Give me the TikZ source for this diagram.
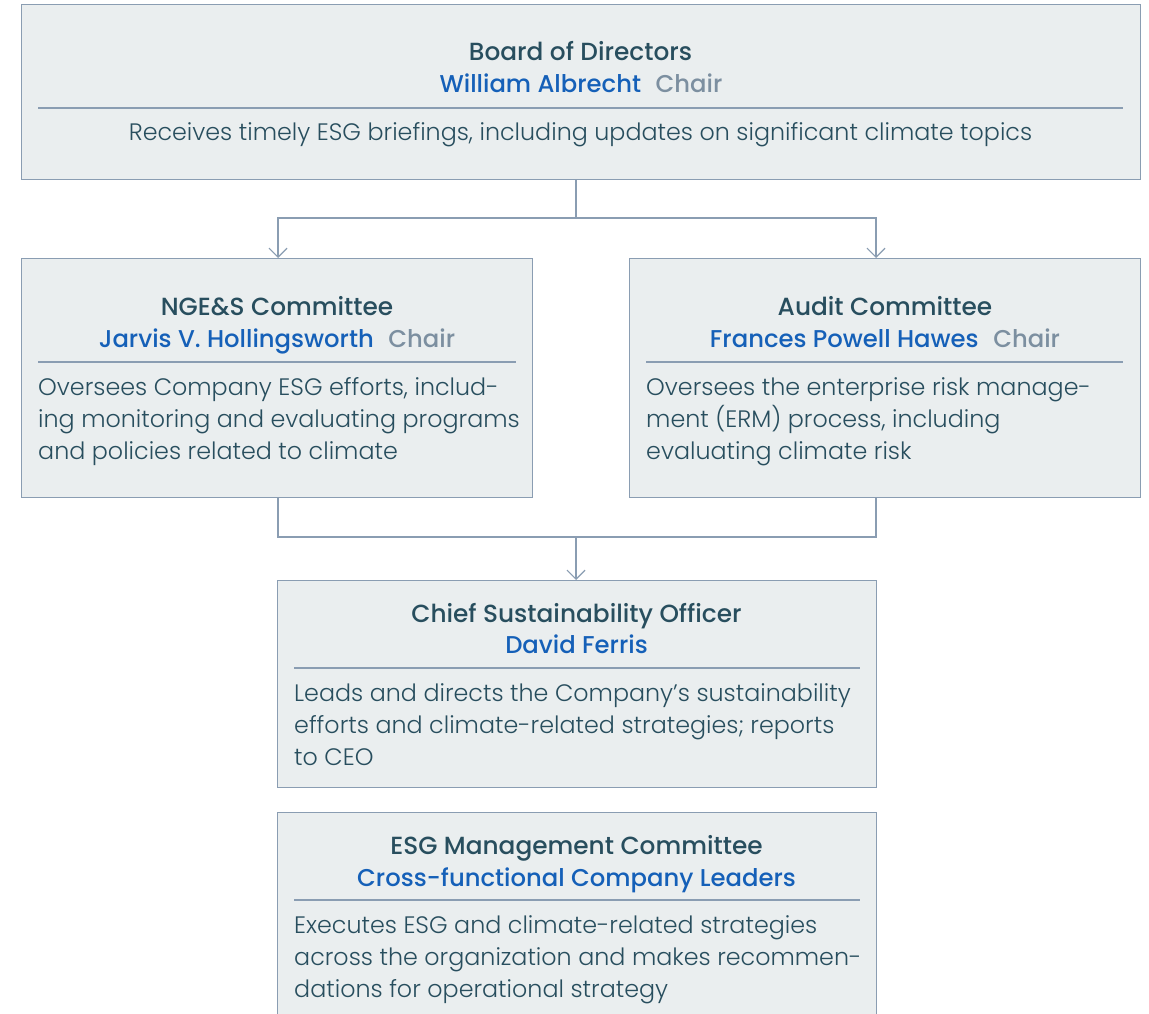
\documentclass[tikz,border=0pt]{standalone}
\usepackage{fontspec}
\setmainfont{Poppins Light}[BoldFont={Poppins Medium}]
\usetikzlibrary{arrows.meta, positioning}
\definecolor{boxfill}{HTML}{EAEEEF}
\definecolor{boxline}{HTML}{8A9DB2}
\definecolor{inkteal}{HTML}{284E5E}
\definecolor{nameblue}{HTML}{1560B8}
\definecolor{chairgray}{HTML}{7C8FA0}
\newcommand{\chair}{\hspace{0.6em}{\color{chairgray}Chair}}
\tikzstyle{unit}=[rectangle, draw=boxline, fill=boxfill, line width=1.3pt, anchor=north west, inner sep=0pt]
\tikzstyle{title}=[anchor=base, inner sep=0pt, text=inkteal, font=\fontsize{24.8}{32}\selectfont\bfseries]
\tikzstyle{who}=[anchor=base, inner sep=0pt, text=nameblue, font=\fontsize{24.3}{32}\selectfont\bfseries]
\tikzstyle{body}=[anchor=base west, inner sep=0pt, text=inkteal, align=left, font=\fontsize{23.8}{32}\selectfont]
\tikzstyle{rulebar}=[line width=1.2pt, draw=boxline]
\tikzstyle{link}=[line width=1.2pt, draw=boxline]
\tikzstyle{arrow}=[link, -{Straight Barb[length=9pt,width=18pt]}]

\begin{document}
\begin{tikzpicture}[x=1pt, y=-1pt]
	\clip (0,0) rectangle (1149,1014);
	\fill[white] (0,0) rectangle (1149,1014);

	% boxes
	\node (board) [unit, minimum width=1119, minimum height=175] at (21,4) {};
	\node (ngs) [unit, minimum width=511, minimum height=239] at (21,258) {};
	\node (audit) [unit, minimum width=511, minimum height=239] at (629,258) {};
	\node (cso) [unit, minimum width=599, minimum height=207] at (277,580) {};
	\node (esgmc) [unit, minimum width=599, minimum height=230] at (277,812) {};

	% board
	\node (boardT) [title] at (580.5,61) {Board of Directors};
	\node (boardN) [who] at (581,93) {William Albrecht\chair};
	\draw[rulebar] (38,108) -- (1123,108);
	\node (boardB) [body, anchor=base] at (580.5,141) {Receives timely ESG briefings, including updates on significant climate topics};

	% committees (base of a multi-line body is its last line)
	\node (ngsT) [title] at (277,315) {NGE\&S Committee};
	\node (ngsN) [who] at (277,347) {Jarvis V. Hollingsworth\chair};
	\draw[rulebar] (38,362) -- (516,362);
	\node (ngsB) [body] at (38,459) {Oversees Company ESG efforts, includ-\\ing monitoring and evaluating programs\\and policies related to climate};

	\node (auditT) [title] at (885,315) {Audit Committee};
	\node (auditN) [who] at (885,347) {Frances Powell Hawes\chair};
	\draw[rulebar] (646,362) -- (1123,362);
	\node (auditB) [body] at (646,459) {Oversees the enterprise risk manage-\\ment (ERM) process, including\\evaluating climate risk};

	% sustainability officer
	\node (csoT) [title] at (576.5,622) {Chief Sustainability Officer};
	\node (csoN) [who] at (576.5,653) {David Ferris};
	\draw[rulebar] (294,668) -- (860,668);
	\node (csoB) [body] at (294,765) {Leads and directs the Company’s sustainability\\efforts and climate-related strategies; reports\\to CEO};

	% management committee
	\node (esgT) [title] at (576.5,854) {ESG Management Committee};
	\node (esgN) [who] at (576.5,886) {Cross-functional Company Leaders};
	\draw[rulebar] (294,900) -- (860,900);
	\node (esgB) [body] at (294,997) {Executes ESG and climate-related strategies\\across the organization and makes recommen-\\dations for operational strategy};

	% connectors
	\coordinate (split) at (576,218);
	\coordinate (merge) at (576,537);
	\coordinate (leftdrop) at (278,0);
	\coordinate (rightdrop) at (876,0);
	\draw[link] (board.south -| split) -- (split);
	\draw[arrow] (split) -| (leftdrop |- ngs.north);
	\draw[arrow] (split) -| (rightdrop |- audit.north);
	\draw[link] (leftdrop |- ngs.south) |- (merge) -| (rightdrop |- audit.south);
	\draw[arrow] (merge) -- (merge |- cso.north);
\end{tikzpicture}
\end{document}
